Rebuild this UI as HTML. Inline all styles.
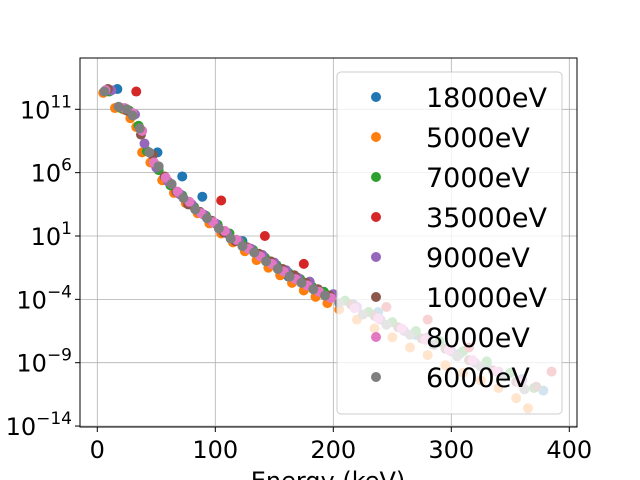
<!DOCTYPE html>
<html><head><meta charset="utf-8"><style>
body{margin:0;background:#fff;}
svg{display:block;font-family:"DejaVu Sans","Liberation Sans",sans-serif;}
</style></head><body>
<svg id="chart" width="640" height="480" viewBox="0 0 640 480"></svg>
<script>
const seriesNames=["18000eV","5000eV","7000eV","35000eV","9000eV","10000eV","8000eV","6000eV"];
const colors=["#1f77b4","#ff7f0e","#2ca02c","#d62728","#9467bd","#8c564b","#e377c2","#7f7f7f"];
const xTicks=[0,100,200,300,400];
const yTicks=[11,6,1,-4,-9,-14];
const e18000=[17,51,72,89,123,145,162,200,217,238,270,290,307,330,360,378];
const v18000=[12.6,7.6,5.7,4.1,0.6,-1.0,-2.2,-3.6,-4.4,-5.0,-6.8,-7.4,-8.3,-9.0,-10.3,-11.2];
const e5000=[5,15,22,28,33,38,45,55,65,75,85,95,105,115,125,135,145,155,165,175,185,195,205,220,235,250,265,280,295,310,325,340,355,365];
const v5000=[12.3,11.1,11.0,10.3,9.6,7.6,6.8,5.4,4.4,3.6,2.8,2.0,1.2,0.5,-0.2,-0.9,-1.5,-2.1,-2.7,-3.3,-3.8,-4.3,-4.8,-5.6,-6.3,-7.0,-7.8,-8.4,-9.2,-9.8,-10.4,-11.0,-11.8,-12.6];
const e7000=[10,20,27,35,42,52,62,72,82,92,102,112,122,132,142,152,162,172,182,192,210,230,250,270,290,310,330,350,370];
const v7000=[12.4,11.1,10.9,9.7,7.7,6.2,5.0,4.2,3.3,2.6,1.9,1.2,0.5,-0.1,-0.7,-1.3,-1.9,-2.4,-3.0,-3.4,-4.1,-5.0,-5.8,-6.5,-7.3,-8.1,-8.9,-9.8,-11.0];
const e35000=[33,105,142,175,245,280,315,385];
const v35000=[12.4,3.8,1.0,-1.2,-4.6,-5.6,-7.8,-9.7];
const e9000=[12,24,32,40,50,60,70,80,90,100,110,120,130,140,150,160,170,180,200,220,240,260,280,300,320,340,360];
const v9000=[12.5,11.0,10.6,8.3,6.4,5.3,4.3,3.5,2.7,2.0,1.2,0.6,0.0,-0.5,-1.1,-1.7,-2.3,-2.6,-3.6,-4.6,-5.6,-6.5,-7.0,-8.1,-9.0,-9.7,-10.4];
const e10000=[9,25,37,47,57,67,77,87,97,107,117,127,137,147,157,167,177,187,197,215,235,255,275,295,315,335,355,372];
const v10000=[12.6,10.9,9.0,7.4,5.7,4.5,3.5,2.9,2.2,1.3,0.6,0.1,-0.4,-1.0,-1.6,-2.1,-2.7,-3.2,-3.7,-4.4,-5.3,-6.2,-7.1,-7.9,-8.8,-9.6,-10.5,-10.9];
const e8000=[7,23,30,38,48,58,68,78,88,98,108,118,128,138,148,158,168,178,188,198,218,238,258,278,298,318,338,358];
const v8000=[12.5,11.1,10.7,9.3,6.8,5.6,4.5,3.7,2.8,2.1,1.4,0.7,0.0,-0.6,-1.2,-1.8,-2.4,-2.9,-3.4,-3.9,-4.7,-5.5,-6.3,-7.2,-8.0,-8.8,-9.7,-10.6];
const e6000=[6,18,25,30,36,44,52,63,73,83,93,103,113,123,133,143,153,163,173,183,193,205,225,245,265,285,305,325,345,362];
const v6000=[12.4,11.2,11.0,10.5,9.5,7.6,6.5,5.1,4.0,3.1,2.4,1.6,0.8,0.2,-0.3,-1.0,-1.6,-2.2,-2.7,-3.2,-3.7,-4.3,-5.2,-6.0,-6.8,-7.6,-8.5,-9.3,-10.1,-11.1];

const allE=[e18000,e5000,e7000,e35000,e9000,e10000,e8000,e6000];
const allV=[v18000,v5000,v7000,v35000,v9000,v10000,v8000,v6000];
const L=80,R=577,T=58,B=427;
const xs=v=>97.3+v*1.18;
const ys=v=>109.3-(v-11)*12.67;
const svg=document.getElementById('chart');
const NS="http://www.w3.org/2000/svg";
function mk(t,a,p){const e=document.createElementNS(NS,t);for(const k in a)e.setAttribute(k,a[k]);(p||svg).appendChild(e);return e;}
const grid=mk('g',{});


xTicks.forEach(t=>{const x=xs(t);if(x<R)mk('line',{x1:x,x2:x,y1:T,y2:B,stroke:'#b0b0b0','stroke-width':0.8},grid);});
yTicks.forEach(t=>{const y=ys(t);if(y<=B+1)mk('line',{x1:L,x2:R,y1:y,y2:y,stroke:'#b0b0b0','stroke-width':0.8},grid);});
allE.forEach((es,si)=>{
  const g=mk('g',{});
  
  
  es.forEach((e,i)=>{
    const c=mk('circle',{cx:xs(e),cy:ys(allV[si][i]),r:5,fill:colors[si]},g);
    
    
  });
});
const fr=mk('rect',{x:L,y:T,width:R-L,height:B-T,fill:'none',stroke:'#000','stroke-width':1});


xTicks.forEach(t=>{const x=xs(t);mk('line',{x1:x,x2:x,y1:B,y2:B+5,stroke:'#000'});
  const tx=mk('text',{x:x,y:B+31,'font-size':24,'text-anchor':'middle'});tx.textContent=t;
  
  });
yTicks.forEach(t=>{const y=ys(t);mk('line',{x1:L-5,x2:L,y1:y,y2:y,stroke:'#000'});
  const tx=mk('text',{x:L-8,y:y+9,'font-size':24,'text-anchor':'end'});
  tx.innerHTML='10<tspan font-size="17" dy="-11">'+(t<0?'\u2212'+(-t):t)+'</tspan>';
  
  });
const xl=mk('text',{x:328,y:489,'font-size':24,'text-anchor':'middle'});xl.textContent='Energy (keV)';


const lg=mk('g',{});


mk('rect',{x:337,y:72,width:225,height:342,rx:4,fill:'#fff','fill-opacity':0.8,stroke:'#cccccc'},lg);
seriesNames.forEach((n,i)=>{const y=97+i*40;
  const c=mk('circle',{cx:376,cy:y,r:5,fill:colors[i]},lg);
  
  
  const t=mk('text',{x:426,y:y+10,'font-size':27},lg);t.textContent=n;
  
  });
</script>
</body></html>
